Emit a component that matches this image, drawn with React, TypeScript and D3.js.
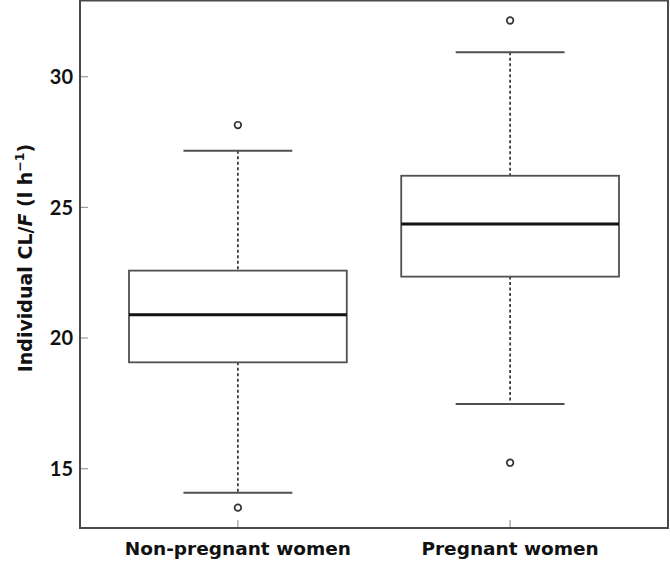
import React from "react";
import * as d3 from "d3";

const categories = ["Non-pregnant women", "Pregnant women"];
const lowerWhisker = [14.08, 17.48];
const q1 = [19.07, 22.35];
const median = [20.89, 24.36];
const q3 = [22.58, 26.21];
const upperWhisker = [27.17, 30.94];
const outliers = [
  [28.15, 13.51],
  [32.15, 15.23],
];
const yTicks = [15, 20, 25, 30];

const W = 670;
const H = 562;
const left = 80;
const right = 668;
const top = 0.5;
const bottom = 528;

export default function App() {
  const x = d3.scaleLinear().domain([0.42, 2.58]).range([left, right]);
  const y = d3.scaleLinear().domain([12.731, 32.916]).range([bottom, top]);
  const boxHalf = x(0.4) - x(0);
  const capHalf = boxHalf / 2;
  const font = "Lato, 'Open Sans', sans-serif";
  const labelFont = "'DejaVu Sans', sans-serif";
  const frameColor = "#4a4a4a";
  const lineColor = "#505050";

  return (
    <svg
      width={W}
      height={H}
      style={{ position: "absolute", left: 0, top: 0, background: "#fff" }}
    >
      <rect x={0} y={0} width={W} height={H} fill="#fff" />
      {/* y ticks */}
      {yTicks.map((t) => (
        <g key={t}>
          <line x1={left} x2={left + 8} y1={y(t)} y2={y(t)} stroke="#999" strokeWidth={1.2} />
          <text
            x={left - 7}
            y={y(t)}
            dy="0.36em"
            textAnchor="end"
            fontFamily={font}
            fontWeight={700}
            fontSize={20}
            fill="#111"
          >
            {t}
          </text>
        </g>
      ))}
      {/* x ticks and labels */}
      {categories.map((c, i) => (
        <g key={c}>
          <line x1={x(i + 1)} x2={x(i + 1)} y1={bottom} y2={bottom - 8} stroke="#999" strokeWidth={1.2} />
          <text
            x={x(i + 1)}
            y={555}
            textAnchor="middle"
            fontFamily={labelFont}
            fontWeight={700}
            fontSize={18.5}
            fill="#111"
          >
            {c}
          </text>
        </g>
      ))}
      {/* boxes */}
      {categories.map((c, i) => {
        const cx = x(i + 1);
        return (
          <g key={"b" + c}>
            <line x1={cx} x2={cx} y1={y(upperWhisker[i])} y2={y(q3[i])} stroke="#333" strokeWidth={1.7} strokeDasharray="3,2.5" />
            <line x1={cx} x2={cx} y1={y(q1[i])} y2={y(lowerWhisker[i])} stroke="#333" strokeWidth={1.7} strokeDasharray="3,2.5" />
            <line x1={cx - capHalf} x2={cx + capHalf} y1={y(upperWhisker[i])} y2={y(upperWhisker[i])} stroke={lineColor} strokeWidth={2} />
            <line x1={cx - capHalf} x2={cx + capHalf} y1={y(lowerWhisker[i])} y2={y(lowerWhisker[i])} stroke={lineColor} strokeWidth={2} />
            <rect
              x={cx - boxHalf}
              y={y(q3[i])}
              width={2 * boxHalf}
              height={y(q1[i]) - y(q3[i])}
              fill="none"
              stroke={lineColor}
              strokeWidth={1.8}
            />
            <line x1={cx - boxHalf} x2={cx + boxHalf} y1={y(median[i])} y2={y(median[i])} stroke="#111" strokeWidth={3} />
            {outliers[i].map((o, j) => (
              <circle key={j} cx={cx} cy={y(o)} r={3.3} fill="none" stroke="#333" strokeWidth={1.7} />
            ))}
          </g>
        );
      })}
      {/* frame */}
      <rect x={left} y={top} width={right - left} height={bottom - top} fill="none" stroke={frameColor} strokeWidth={2} />
      {/* y label */}
      <text
        transform={`translate(32, ${258}) rotate(-90)`}
        textAnchor="middle"
        fontFamily={labelFont}
        fontWeight={700}
        fontSize={19}
        fill="#111"
      >
        Individual CL/<tspan fontStyle="italic">F</tspan> (l h
        <tspan fontSize={12.5} dy={-8}>−1</tspan>
        <tspan dy={8}>)</tspan>
      </text>
    </svg>
  );
}
